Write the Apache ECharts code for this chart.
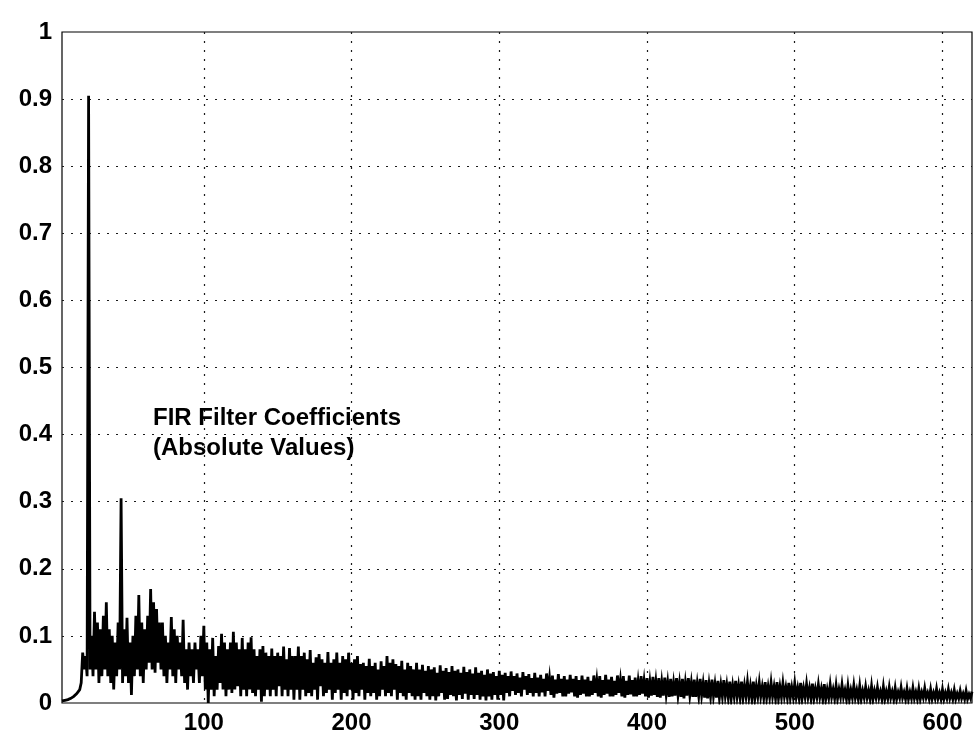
<!DOCTYPE html>
<html>
<head>
<meta charset="utf-8">
<script src="https://cdn.jsdelivr.net/npm/echarts@6/dist/echarts.min.js"></script>
<style>
	html, body { margin: 0; padding: 0; background: #fff; }
	#chart { width: 974px; height: 735px; }
</style>
</head>
<body>
<div id="chart"></div>
<script>
// tap index of the first listed value
const firstTap = 4;

// |h[n]|, one value per tap from n = 4 to n = 620 (20 per row)
const coeffs = [
	0.003, 0.003, 0.004, 0.004, 0.005, 0.006, 0.007, 0.008, 0.010, 0.012, 0.014, 0.017, 0.020, 0.030, 0.075, 0.05, 0.07, 0.04, 0.905, 0.05,
	0.10, 0.04, 0.136, 0.05, 0.12, 0.03, 0.11, 0.04, 0.13, 0.05, 0.15, 0.04, 0.11, 0.03, 0.10, 0.02, 0.09, 0.04, 0.12, 0.05,
	0.305, 0.03, 0.11, 0.04, 0.127, 0.03, 0.09, 0.012, 0.10, 0.04, 0.13, 0.05, 0.161, 0.04, 0.12, 0.03, 0.11, 0.05, 0.13, 0.06,
	0.17, 0.05, 0.15, 0.045, 0.14, 0.06, 0.12, 0.05, 0.12, 0.04, 0.10, 0.03, 0.09, 0.05, 0.128, 0.04, 0.11, 0.03, 0.10, 0.05,
	0.09, 0.04, 0.124, 0.03, 0.08, 0.02, 0.09, 0.04, 0.08, 0.03, 0.09, 0.05, 0.08, 0.03, 0.10, 0.04, 0.115, 0.02, 0.09, 0.0,
	0.08, 0.02, 0.097, 0.01, 0.07, 0.02, 0.085, 0.03, 0.103, 0.02, 0.09, 0.01, 0.08, 0.02, 0.09, 0.015, 0.106, 0.02, 0.09, 0.025,
	0.08, 0.01, 0.097, 0.02, 0.08, 0.01, 0.09, 0.02, 0.098, 0.015, 0.08, 0.01, 0.07, 0.02, 0.08, 0.002, 0.085, 0.01, 0.075, 0.02,
	0.07, 0.01, 0.081, 0.02, 0.07, 0.01, 0.075, 0.025, 0.07, 0.01, 0.084, 0.02, 0.065, 0.01, 0.082, 0.02, 0.07, 0.005, 0.07, 0.02,
	0.084, 0.005, 0.07, 0.02, 0.075, 0.01, 0.065, 0.015, 0.079, 0.01, 0.06, 0.02, 0.068, 0.005, 0.073, 0.025, 0.065, 0.01, 0.06, 0.015,
	0.076, 0.02, 0.06, 0.005, 0.065, 0.015, 0.075, 0.02, 0.06, 0.005, 0.07, 0.015, 0.065, 0.01, 0.075, 0.02, 0.06, 0.005, 0.065, 0.015,
	0.07, 0.01, 0.058, 0.02, 0.06, 0.005, 0.055, 0.015, 0.066, 0.01, 0.055, 0.015, 0.06, 0.005, 0.05, 0.01, 0.062, 0.02, 0.055, 0.01,
	0.07, 0.015, 0.06, 0.01, 0.065, 0.02, 0.058, 0.005, 0.055, 0.015, 0.063, 0.01, 0.05, 0.005, 0.06, 0.015, 0.055, 0.01, 0.05, 0.005,
	0.06, 0.01, 0.05, 0.005, 0.057, 0.015, 0.048, 0.01, 0.055, 0.005, 0.05, 0.01, 0.053, 0.004, 0.045, 0.01, 0.056, 0.015, 0.048, 0.005,
	0.052, 0.006, 0.046, 0.012, 0.055, 0.01, 0.048, 0.004, 0.05, 0.012, 0.045, 0.006, 0.054, 0.014, 0.046, 0.005, 0.05, 0.012, 0.044, 0.006,
	0.053, 0.012, 0.045, 0.005, 0.048, 0.01, 0.042, 0.004, 0.05, 0.01, 0.044, 0.005, 0.046, 0.012, 0.04, 0.005, 0.048, 0.012, 0.042, 0.004,
	0.045, 0.015, 0.04, 0.01, 0.047, 0.018, 0.04, 0.012, 0.044, 0.015, 0.038, 0.01, 0.046, 0.02, 0.04, 0.012, 0.043, 0.015, 0.037, 0.01,
	0.045, 0.015, 0.038, 0.01, 0.042, 0.016, 0.036, 0.01, 0.044, 0.018, 0.037, 0.012, 0.041, 0.008, 0.035, 0.014, 0.043, 0.015, 0.036, 0.01,
	0.04, 0.01, 0.035, 0.014, 0.042, 0.016, 0.036, 0.01, 0.04, 0.008, 0.034, 0.012, 0.041, 0.014, 0.035, 0.01, 0.039, 0.01, 0.033, 0.012,
	0.041, 0.015, 0.034, 0.01, 0.04, 0.008, 0.034, 0.012, 0.042, 0.014, 0.035, 0.01, 0.039, 0.01, 0.033, 0.012, 0.041, 0.015, 0.034, 0.01,
	0.04, 0.008, 0.033, 0.012, 0.041, 0.013, 0.034, 0.01, 0.038, 0.01, 0.032, 0.012, 0.04, 0.014, 0.033, 0.01, 0.037, 0.008, 0.031, 0.011,
	0.039, 0.012, 0.032, 0.009, 0.037, 0.008, 0.031, 0.011, 0.038, 0.013, 0.031, 0.009, 0.036, 0.01, 0.03, 0.011, 0.037, 0.012, 0.03, 0.009,
	0.036, 0.007, 0.03, 0.011, 0.037, 0.012, 0.03, 0.009, 0.035, 0.009, 0.029, 0.011, 0.036, 0.012, 0.029, 0.008, 0.034, 0.007, 0.028, 0.01,
	0.035, 0.011, 0.028, 0.008, 0.033, 0.008, 0.027, 0.01, 0.034, 0.011, 0.027, 0.008, 0.032, 0.007, 0.026, 0.01, 0.033, 0.01, 0.026, 0.008,
	0.032, 0.008, 0.026, 0.01, 0.031, 0.009, 0.025, 0.007, 0.032, 0.007, 0.025, 0.01, 0.03, 0.01, 0.024, 0.008, 0.031, 0.008, 0.024, 0.009,
	0.03, 0.01, 0.024, 0.007, 0.031, 0.007, 0.024, 0.009, 0.029, 0.01, 0.023, 0.008, 0.03, 0.008, 0.023, 0.009, 0.029, 0.009, 0.022, 0.007,
	0.03, 0.007, 0.022, 0.009, 0.028, 0.009, 0.022, 0.007, 0.029, 0.007, 0.021, 0.009, 0.027, 0.009, 0.021, 0.006, 0.028, 0.006, 0.02, 0.008,
	0.027, 0.009, 0.02, 0.007, 0.026, 0.007, 0.02, 0.009, 0.027, 0.009, 0.019, 0.006, 0.025, 0.006, 0.019, 0.008, 0.026, 0.008, 0.019, 0.006,
	0.025, 0.006, 0.018, 0.008, 0.024, 0.008, 0.018, 0.006, 0.025, 0.006, 0.018, 0.008, 0.023, 0.008, 0.017, 0.006, 0.024, 0.006, 0.017, 0.007,
	0.023, 0.008, 0.017, 0.006, 0.022, 0.006, 0.016, 0.008, 0.023, 0.008, 0.016, 0.006, 0.021, 0.006, 0.016, 0.007, 0.022, 0.007, 0.016, 0.006,
	0.021, 0.006, 0.016, 0.008, 0.022, 0.008, 0.015, 0.006, 0.02, 0.006, 0.015, 0.007, 0.021, 0.007, 0.015, 0.006, 0.02, 0.006, 0.015, 0.007,
	0.02, 0.007, 0.015, 0.006, 0.019, 0.006, 0.014, 0.007, 0.018, 0.007, 0.014, 0.006, 0.018, 0.006, 0.013, 0.007, 0.017
];

const xRange = [4, 620];
const xTicks = [100, 200, 300, 400, 500, 600];
const yTicks = [0, 0.1, 0.2, 0.3, 0.4, 0.5, 0.6, 0.7, 0.8, 0.9, 1];
const noteLines = ["FIR Filter Coefficients", "(Absolute Values)"];

const FONT = "'Liberation Sans', Arial, sans-serif";
const gridLine = { color: "#1a1a1a", width: 1.2, type: [2, 7] };

const chart = echarts.init(document.getElementById("chart"));
const data = coeffs.map((v, i) => [firstTap + i, v]);

chart.setOption({
	animation: false,
	textStyle: { fontFamily: FONT },
	grid: { left: 62, right: 2, top: 32, bottom: 32, show: true, borderColor: "#000", borderWidth: 1.2 },
	xAxis: {
		type: "value",
		min: xRange[0],
		max: xRange[1],
		axisLine: { show: false },
		axisTick: { show: false, customValues: xTicks },
		axisLabel: {
			customValues: xTicks,
			color: "#000", fontSize: 24, fontWeight: "bold", fontFamily: FONT, margin: 8,
		},
		splitLine: { show: true, lineStyle: gridLine },
	},
	yAxis: {
		type: "value",
		min: 0,
		max: 1,
		interval: 0.1,
		axisLine: { show: false },
		axisTick: { show: false },
		axisLabel: {
			color: "#000", fontSize: 24, fontWeight: "bold", fontFamily: FONT, margin: 10,
			formatter: (v) => (yTicks.includes(+v.toFixed(1)) ? String(+v.toFixed(1)) : ""),
		},
		splitLine: { show: true, showMinLine: false, showMaxLine: false, lineStyle: gridLine },
	},
	graphic: [
		{
			type: "text",
			left: 153,
			top: 403,
			z: 10,
			style: {
				text: noteLines.join("\n"),
				font: "bold 24px " + FONT,
				lineHeight: 30,
				fill: "#000",
			},
		},
	],
	series: [
		{
			type: "line",
			data,
			showSymbol: false,
			sampling: null,
			lineStyle: { color: "#000", width: 2.8, join: "miter" },
			z: 3,
		},
	],
});
</script>
</body>
</html>
